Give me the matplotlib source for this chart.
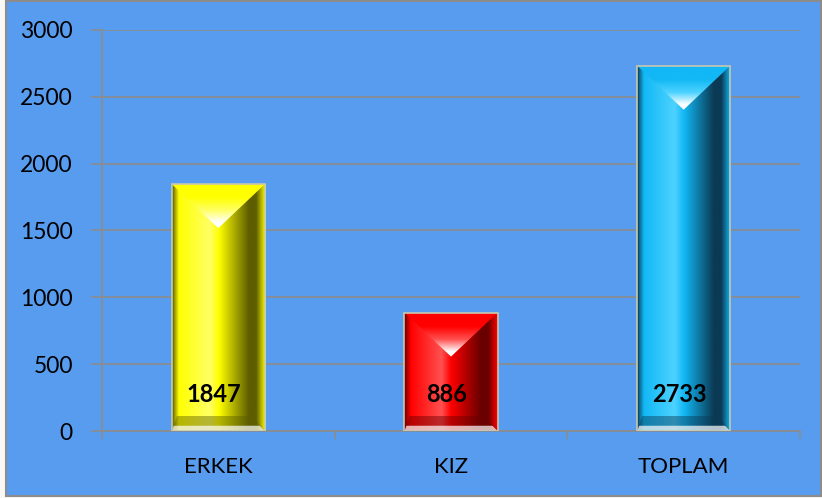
# Gráfico de barras ERKEK / KIZ / TOPLAM con efecto biselado
import numpy as np
import matplotlib.pyplot as plt
from matplotlib.patches import Rectangle, Polygon
from matplotlib.colors import LinearSegmentedColormap

# Datos
categorias = ['ERKEK', 'KIZ', 'TOPLAM']
valores = [1847, 886, 2733]
yticks = [0, 500, 1000, 1500, 2000, 2500, 3000]

# Colores (claro, base, oscuro) por barra
colores = [
    ('#FFFF66', '#FFFF00', '#5E5E00'),
    ('#FF5050', '#FF0000', '#6A0000'),
    ('#4DD2FF', '#12B8F5', '#0B3A55'),
]

plt.rcParams['font.family'] = ['Lato', 'DejaVu Sans']

fig = plt.figure(figsize=(8.22, 4.98), dpi=100, facecolor='#FAF8F4')
fig.patches.append(Rectangle((6 / 822, 2 / 498), 815 / 822, 495 / 498,
                             transform=fig.transFigure, facecolor='#589CF0',
                             edgecolor='#8C8C8C', linewidth=1.5, zorder=-1))

ax = fig.add_axes([102 / 822, 1 - 431 / 498, 698 / 822, 401 / 498])
ax.set_facecolor('none')
ax.set_xlim(-0.5, 2.5)
ax.set_ylim(0, 3000)

ancho = 0.4
x = np.arange(len(categorias))

# Conversión píxel -> datos
px_x = 3.0 / 698
px_y = 3000 / 401

barras = ax.bar(x, valores, width=ancho, color='none', edgecolor='none', zorder=3)

for i, (b, v) in enumerate(zip(barras, valores)):
    claro, base, oscuro = colores[i]
    x0 = b.get_x()
    x1 = x0 + b.get_width()
    xc = (x0 + x1) / 2
    w = x1 - x0
    # degradado horizontal
    cmap = LinearSegmentedColormap.from_list(
        'g%d' % i,
        [(0, oscuro), (0.07, base), (0.4, claro), (0.5, base), (0.82, oscuro), (0.9, oscuro), (1.0, base)])
    grad = np.linspace(0, 1, 200).reshape(1, -1)
    im = ax.imshow(grad, cmap=cmap, extent=[x0, x1, 0, v], aspect='auto', zorder=3)
    im.set_clip_path(b)
    # faceta superior (triángulo con brillo hacia el vértice)
    ap = 44 * px_y
    tri = Polygon([(x0, v), (x1, v), (xc, v - ap)], facecolor='none', edgecolor='none')
    ax.add_patch(tri)
    cm_top = LinearSegmentedColormap.from_list('t%d' % i, [(0, 'white'), (0.12, 'white'), (0.4, claro), (0.7, base), (1, base)])
    vert = np.linspace(0, 1, 100).reshape(-1, 1)
    im2 = ax.imshow(vert, cmap=cm_top, extent=[x0, x1, v - ap, v], origin='lower',
                    aspect='auto', zorder=4)
    im2.set_clip_path(tri)
    # faceta inferior (trapecio)
    hb = 15 * px_y
    ax.add_patch(Polygon([(x0, 0), (x1, 0), (x1 - 12 * px_x, hb), (x0 + 5 * px_x, hb)],
                         facecolor=oscuro, edgecolor='none', alpha=0.45, zorder=4))
    ax.add_patch(Polygon([(x0, 0), (x1, 0), (x1 - 5 * px_x, hb * 0.35), (x0 + 2 * px_x, hb * 0.35)],
                         facecolor='white', edgecolor='none', alpha=0.7, zorder=4))
    ax.add_patch(Rectangle((x0, 0), w, v, facecolor='none', edgecolor='#C8C8B0',
                           linewidth=1.2, zorder=5))
    # etiqueta
    ax.annotate(str(v), (x[i] - 0.02, 0), xytext=(0, 37), textcoords='offset pixels',
                ha='center', va='center', fontsize=17, fontweight='bold',
                color='black', zorder=6)

# Ejes
ax.set_yticks(yticks)
ax.set_xticks([-0.5, 0.5, 1.5, 2.5])
ax.set_xticklabels([])
ax.set_xticks(x, minor=True)
ax.set_xticklabels(categorias, minor=True)
ax.tick_params(axis='x', which='major', length=6, color='#8C8C8C', width=1.2)
ax.tick_params(axis='x', which='minor', length=0, pad=19, labelsize=16)
ax.tick_params(axis='y', length=8, color='#8C8C8C', width=1.2, pad=13, labelsize=16.5)
ax.yaxis.grid(True, color='#8C8C8C', linewidth=1.2, zorder=0)
ax.set_axisbelow(True)
for s in ['top', 'right']:
    ax.spines[s].set_visible(False)
for s in ['left', 'bottom']:
    ax.spines[s].set_color('#8C8C8C')
    ax.spines[s].set_linewidth(1.2)

plt.savefig('out.png', dpi=100, facecolor=fig.get_facecolor())
